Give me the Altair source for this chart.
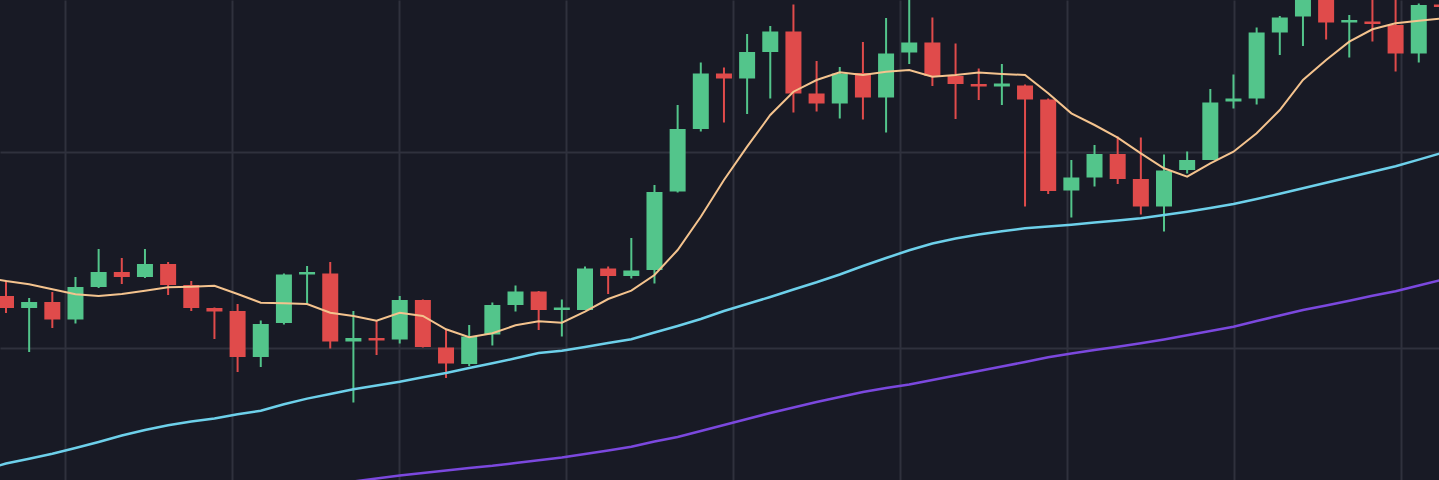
import altair as alt
import pandas as pd

# ---- candle data (index = bar number, prices in points) ----
candle_index = list(range(63))
opens = [204, 192, 198, 180.5, 213, 228, 223, 236, 215, 192,
         189, 143, 177, 225.5, 226.5, 158.5, 162, 160.5, 200, 152.5,
         136, 165.5, 195, 208.5, 190, 190, 231.5, 224, 230, 308.5,
         371, 426.5, 421.5, 448, 468.5, 406.5, 396.5, 427, 402.5, 447.5,
         457.5, 424, 416, 413.5, 414.5, 400.5, 309.5, 322.5, 346, 321,
         293.5, 330, 340, 398.5, 401.5, 467.5, 483.5, 504, 477.5, 478.5,
         475, 446.5, 495.5]
highs = [220, 202, 208, 223, 251, 242, 251, 238, 219, 192.5,
         196, 179.5, 226.5, 234, 238, 189, 180, 204, 200.5, 170,
         175, 197.5, 214.5, 209, 200.5, 233.5, 233.5, 262, 315, 395,
         437.5, 432.5, 466, 474, 495.5, 439, 433, 458, 482, 510,
         482.5, 456.5, 431.5, 436, 415.5, 401.5, 340, 355, 363.5, 362.5,
         345.5, 348.5, 411, 425.5, 472.5, 484, 512, 512, 485, 505,
         505, 496.5, 498]
lows = [187, 148, 172, 176.5, 212, 216, 222, 205, 189, 161,
        128, 133, 175.5, 196.5, 151.5, 97.5, 145, 156.5, 152.5, 122,
        134, 154.5, 188.5, 170, 163.5, 190, 206, 221.5, 216.5, 307.5,
        368.5, 377.5, 386, 401.5, 387.5, 388.5, 381.5, 380.5, 367.5, 436,
        414, 381, 400, 395, 293.5, 306, 282.5, 313.5, 316, 285.5,
        268.5, 326.5, 340, 391.5, 395.5, 445, 454, 460.5, 442.5, 458.5,
        428.5, 437.5, 485]
closes = [192, 198, 180.5, 213, 228, 223, 236, 215, 192, 188.5,
          143, 176, 225.5, 228, 158.5, 162, 159.5, 200, 153, 136.5,
          163.5, 195, 208.5, 190, 192.5, 231.5, 224, 229.5, 308, 371,
          426.5, 421.5, 448, 468.5, 406.5, 396.5, 426.5, 402.5, 446.5, 457.5,
          424, 416, 413.5, 416.5, 400.5, 309, 322.5, 346, 321, 293.5,
          329.5, 340, 397.5, 401.5, 467.5, 482.5, 503, 477.5, 480, 476,
          446.5, 495, 493]

# ---- moving averages ----
fast_index = list(range(-1, 63))
ma_fast = [223, 219, 215.7, 210.7, 205.7, 204, 206, 209.3, 212.7, 213.3,
           214.3, 206, 197.3, 196.7, 196, 187.3, 184, 179.3, 187.3, 184,
           170.7, 162.7, 166.7, 174.7, 178.7, 177.3, 188.3, 201, 209.3, 225,
           250, 283.3, 320, 353.3, 385, 408.3, 420, 427.7, 425, 428.3,
           430, 423.3, 425, 427.5, 426, 425, 406.7, 386.7, 375, 362.3,
           346.7, 331.7, 323.3, 336.7, 348.3, 366.7, 390, 420, 440, 458.3,
           470.7, 476.7, 479.3, 481.5]
mid_index = list(range(-1, 63))
ma_mid = [30, 36.5, 41.3, 46.3, 52, 58, 64.5, 70, 74.7, 78.4,
          81.6, 85.8, 89.3, 95.7, 101.4, 106, 110.7, 114.5, 118.3, 122.7,
          127, 132, 136.7, 141.7, 147, 149.2, 153, 157, 160.7, 167.5,
          174, 181, 189, 196, 203, 210.5, 217.7, 225.5, 234, 242,
          249.7, 256.5, 261.5, 265.5, 268.7, 271.7, 273.5, 275.2, 277.4, 279.5,
          281.7, 285, 288.3, 292, 296, 301, 306.3, 311.7, 317.2, 322.7,
          328.2, 333.7, 340.4, 347.1]
slow_index = list(range(14, 63))
ma_slow = [16, 18.5, 21.5, 24.5, 27, 29.5, 32, 34.2, 37, 39.8,
           42.5, 46, 49.5, 53.3, 58.5, 63, 69, 75, 81, 87,
           92.5, 98, 103, 108, 112, 115.5, 120, 124.5, 129, 133.5,
           138, 142.7, 146.5, 150, 153.3, 156.7, 160.6, 164.7, 169, 173.3,
           179, 184.5, 190, 194.5, 199.3, 204.2, 208.8, 214.5, 220.2]

x_grid = [2.55, 9.76, 16.97, 24.18, 31.39, 38.60, 45.81, 53.02, 60.23]
y_grid = [152, 348]

candles = pd.DataFrame({"i": candle_index, "open": opens, "high": highs,
                        "low": lows, "close": closes})
candles["dir"] = ["up" if c >= o else "down" for o, c in zip(opens, closes)]

fast = pd.DataFrame({"i": fast_index, "v": ma_fast})
mid = pd.DataFrame({"i": mid_index, "v": ma_mid})
slow = pd.DataFrame({"i": slow_index, "v": ma_slow})

GREEN = "#53c58b"
RED = "#e04b4b"
GRID = "#2f313d"

xs = alt.Scale(domain=[-0.259, 61.874], nice=False, zero=False, padding=0)
ys = alt.Scale(domain=[20, 500], nice=False, zero=False, padding=0)
col = alt.Color("dir:N", scale=alt.Scale(domain=["up", "down"], range=[GREEN, RED]), legend=None)

x_axis = alt.Axis(values=x_grid, labels=False, ticks=False, domain=False, title=None,
                  grid=True, gridColor=GRID, gridWidth=2, gridOpacity=1)
y_axis = alt.Axis(values=y_grid, labels=False, ticks=False, domain=False, title=None,
                  grid=True, gridColor=GRID, gridWidth=2, gridOpacity=1)

wicks = alt.Chart(candles).mark_rule(strokeWidth=2, clip=True).encode(
    x=alt.X("i:Q", scale=xs, axis=x_axis),
    y=alt.Y("low:Q", scale=ys, axis=y_axis),
    y2="high:Q",
    color=col,
)
bodies = alt.Chart(candles).mark_bar(size=16, clip=True).encode(
    x=alt.X("i:Q", scale=xs),
    y=alt.Y("open:Q", scale=ys),
    y2="close:Q",
    color=col,
)

def ma_line(df, color, w):
    return alt.Chart(df).mark_line(color=color, strokeWidth=w, clip=True).encode(
        x=alt.X("i:Q", scale=xs),
        y=alt.Y("v:Q", scale=ys),
    )

chart = alt.layer(
    wicks,
    bodies,
    ma_line(slow, "#7b48de", 2.5),
    ma_line(mid, "#6dd0ea", 2.5),
    ma_line(fast, "#f4c38e", 2),
).properties(
    width=1439, height=480, padding=0,
    autosize=alt.AutoSizeParams(type="none"),
    background="#181a25",
).configure_view(stroke=None)

chart.save("out.html", embed_options={"renderer": "svg", "actions": False})
